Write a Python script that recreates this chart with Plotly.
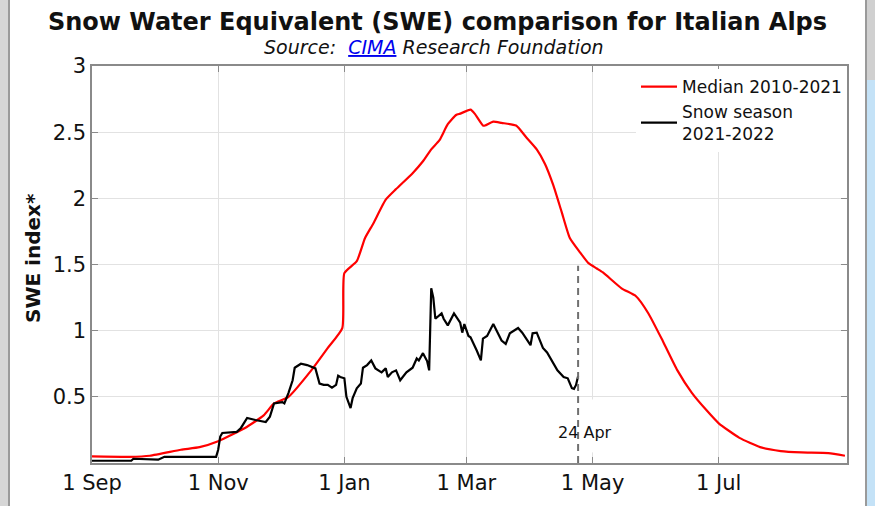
import plotly.graph_objects as go

# ---------------- data ----------------
red_dates = ["2021-09-01", "2021-09-19", "2021-09-29", "2021-10-14", "2021-10-23", "2021-11-01",
             "2021-11-14", "2021-11-23", "2021-11-28", "2021-12-05", "2021-12-16", "2021-12-24",
             "2021-12-31", "2022-01-01", "2022-01-07", "2022-01-11", "2022-01-15", "2022-01-21",
             "2022-01-26", "2022-02-03", "2022-02-08", "2022-02-12", "2022-02-16", "2022-02-20",
             "2022-02-24", "2022-02-26", "2022-03-03", "2022-03-05", "2022-03-09", "2022-03-10",
             "2022-03-14", "2022-03-18", "2022-03-25", "2022-03-30", "2022-04-04", "2022-04-08",
             "2022-04-12", "2022-04-16", "2022-04-20", "2022-04-25", "2022-04-29", "2022-05-03",
             "2022-05-06", "2022-05-15", "2022-05-22", "2022-05-28", "2022-06-04", "2022-06-11",
             "2022-06-18", "2022-06-25", "2022-07-01", "2022-07-11", "2022-07-21", "2022-07-31",
             "2022-08-10", "2022-08-23", "2022-08-31"]
red_values = [0.05, 0.047, 0.055, 0.10, 0.12, 0.165,
              0.265, 0.36, 0.45, 0.50, 0.70, 0.87,
              1.02, 1.435, 1.525, 1.70, 1.81, 1.99,
              2.07, 2.19, 2.28, 2.37, 2.44, 2.56,
              2.63, 2.64, 2.67, 2.64, 2.55, 2.55,
              2.58, 2.57, 2.55, 2.46, 2.37, 2.26,
              2.10, 1.90, 1.70, 1.59, 1.51, 1.47,
              1.44, 1.32, 1.26, 1.13, 0.92, 0.70,
              0.53, 0.40, 0.30, 0.19, 0.12, 0.09,
              0.08, 0.075, 0.055]

black_dates = ["2021-09-01", "2021-09-20", "2021-09-21", "2021-10-03", "2021-10-06", "2021-10-31",
               "2021-11-01", "2021-11-02", "2021-11-03", "2021-11-10", "2021-11-12", "2021-11-15",
               "2021-11-19", "2021-11-24", "2021-11-26", "2021-11-28", "2021-12-02", "2021-12-03",
               "2021-12-05", "2021-12-07", "2021-12-08", "2021-12-11", "2021-12-14", "2021-12-18",
               "2021-12-20", "2021-12-22", "2021-12-24", "2021-12-26", "2021-12-28", "2021-12-29",
               "2021-12-30", "2022-01-01", "2022-01-02", "2022-01-04", "2022-01-05", "2022-01-07",
               "2022-01-09", "2022-01-10", "2022-01-12", "2022-01-14", "2022-01-16", "2022-01-19",
               "2022-01-21", "2022-01-22", "2022-01-24", "2022-01-26", "2022-01-28", "2022-01-31",
               "2022-02-03", "2022-02-05", "2022-02-06", "2022-02-08", "2022-02-10", "2022-02-11",
               "2022-02-12", "2022-02-13", "2022-02-14", "2022-02-17", "2022-02-18", "2022-02-20",
               "2022-02-23", "2022-02-26", "2022-02-27", "2022-02-28", "2022-03-02", "2022-03-03",
               "2022-03-06", "2022-03-08", "2022-03-09", "2022-03-11", "2022-03-14", "2022-03-16",
               "2022-03-18", "2022-03-20", "2022-03-22", "2022-03-26", "2022-03-28", "2022-04-01",
               "2022-04-02", "2022-04-04", "2022-04-07", "2022-04-09", "2022-04-12", "2022-04-14",
               "2022-04-17", "2022-04-19", "2022-04-21", "2022-04-22", "2022-04-23", "2022-04-24"]
black_values = [0.017, 0.017, 0.032, 0.025, 0.047, 0.047,
                0.10, 0.20, 0.227, 0.235, 0.265, 0.34,
                0.325, 0.31, 0.35, 0.45, 0.46, 0.45,
                0.53, 0.625, 0.72, 0.75, 0.74, 0.715,
                0.60, 0.59, 0.59, 0.57, 0.59, 0.66,
                0.65, 0.64, 0.50, 0.415, 0.49, 0.565,
                0.60, 0.72, 0.74, 0.775, 0.715, 0.685,
                0.715, 0.65, 0.685, 0.70, 0.625, 0.685,
                0.72, 0.79, 0.775, 0.83, 0.77, 0.70,
                1.32, 1.25, 1.09, 1.13, 1.09, 1.04,
                1.13, 1.06, 0.985, 1.05, 0.96, 0.95,
                0.85, 0.775, 0.94, 0.96, 1.05, 0.985,
                0.925, 0.90, 0.98, 1.02, 0.985, 0.89,
                0.98, 0.985, 0.87, 0.835, 0.76, 0.70,
                0.65, 0.64, 0.565, 0.56, 0.59, 0.655]

x_tick_vals = ["2021-09-01", "2021-11-01", "2022-01-01", "2022-03-01", "2022-05-01", "2022-07-01"]
x_tick_text = ["1 Sep", "1 Nov", "1 Jan", "1 Mar", "1 May", "1 Jul"]
y_tick_vals = [0.5, 1, 1.5, 2, 2.5, 3]
y_tick_text = ["0.5", "1", "1.5", "2", "2.5", "3"]

marker_date = "2022-04-24"
marker_level = 1.49
marker_label = "24 Apr"

# ---------------- layout constants ----------------
W, H = 875, 506
L, R, T, B = 92, 28, 66, 43
PW, PH = W - L - R, H - T - B


def px_x(px):
    return (px - L) / PW


def px_y(py):
    return 1 - (py - T) / PH


FONT = "DejaVu Sans, Verdana, sans-serif"
GRID = "#e2e2e2"
FRAME = "#8a8a8a"

fig = go.Figure()
fig.add_trace(go.Scatter(x=red_dates, y=red_values, mode="lines", name="Median 2010-2021",
                         line=dict(color="#ff0000", width=2.2, shape="spline", smoothing=0.5)))
fig.add_trace(go.Scatter(x=black_dates, y=black_values, mode="lines", name="Snow season<br>2021-2022",
                         line=dict(color="#000000", width=2.2)))

shapes = [
    # white patch behind the date label (covers gridline)
    dict(type="rect", xref="x", yref="y", x0="2022-04-28", x1="2022-05-05", y0=0.08, y1=0.48,
         fillcolor="white", line=dict(width=0), layer="between"),
    # dashed marker line
    dict(type="line", xref="x", yref="y", x0=marker_date, x1=marker_date, y0=0, y1=marker_level,
         line=dict(color="#707070", width=2, dash="7px,5px"), layer="above"),
    # page decorations (screenshot edges)
    dict(type="rect", xref="paper", yref="paper", x0=px_x(0), x1=px_x(8), y0=px_y(H), y1=px_y(0),
         fillcolor="#d6d6d6", line=dict(width=0), layer="below"),
    dict(type="line", xref="paper", yref="paper", x0=px_x(9), x1=px_x(9), y0=px_y(H), y1=px_y(0),
         line=dict(color="#9a9a9a", width=2)),
    dict(type="rect", xref="paper", yref="paper", x0=px_x(867), x1=px_x(W), y0=px_y(H), y1=px_y(80),
         fillcolor="#c4e2f7", line=dict(width=0), layer="below"),
    dict(type="rect", xref="paper", yref="paper", x0=px_x(867), x1=px_x(W), y0=px_y(80), y1=px_y(0),
         fillcolor="#d0d0d0", line=dict(width=0), layer="below"),
    dict(type="line", xref="paper", yref="paper", x0=px_x(866), x1=px_x(866), y0=px_y(H), y1=px_y(0),
         line=dict(color="#9a9a9a", width=2)),
]

annotations = [
    dict(text="<i>Source:  <span style='color:#0000ee;text-decoration:underline'>CIMA</span> Research Foundation</i>",
         xref="paper", yref="paper", x=px_x(434), y=px_y(47), xanchor="center", yanchor="middle",
         showarrow=False, font=dict(family=FONT, size=19, color="#111111")),
    dict(text="<b>SWE index*</b>", textangle=-90, xref="paper", yref="paper",
         x=px_x(33), y=px_y(258), xanchor="center", yanchor="middle", showarrow=False,
         font=dict(family=FONT, size=20, color="#111111")),
    dict(text=marker_label, xref="x", yref="y", x=marker_date, y=0.23, xshift=7,
         xanchor="center", yanchor="middle", showarrow=False,
         font=dict(family=FONT, size=16, color="#111111")),
]

fig.update_layout(
    width=W, height=H,
    margin=dict(l=L, r=R, t=T, b=B),
    paper_bgcolor="white", plot_bgcolor="white",
    title=dict(text="<b>Snow Water Equivalent (SWE) comparison for Italian Alps</b>",
               xref="container", x=0.5, xanchor="center",
               yref="container", y=1 - 22 / H, yanchor="middle",
               font=dict(family=FONT, size=24, color="#111111")),
    font=dict(family=FONT, color="#111111"),
    showlegend=True,
    legend=dict(x=1, y=1 - 3 / PH, xanchor="right", yanchor="top", bgcolor="white", borderwidth=0,
                font=dict(family=FONT, size=17, color="#111111"), tracegroupgap=0,
                itemwidth=36),
    shapes=shapes,
    annotations=annotations,
    xaxis=dict(type="date", range=["2021-09-01", "2022-09-01"], tickvals=x_tick_vals,
               ticktext=x_tick_text, showgrid=True, gridcolor=GRID, gridwidth=1,
               showline=True, linecolor=FRAME, linewidth=1.5, mirror="ticks",
               ticks="inside", ticklen=6, tickcolor=FRAME,
               tickfont=dict(family=FONT, size=21, color="#111111"), zeroline=False),
    yaxis=dict(range=[0, 3], tickvals=y_tick_vals, ticktext=y_tick_text, showgrid=True,
               gridcolor=GRID, gridwidth=1, showline=True, linecolor=FRAME, linewidth=1.5,
               mirror="ticks", ticks="inside", ticklen=6, tickcolor=FRAME,
               tickfont=dict(family=FONT, size=21, color="#111111"), zeroline=False),
)

fig.write_html("out.html", config={"displayModeBar": False},
               post_script="document.body.style.margin='0px';")
